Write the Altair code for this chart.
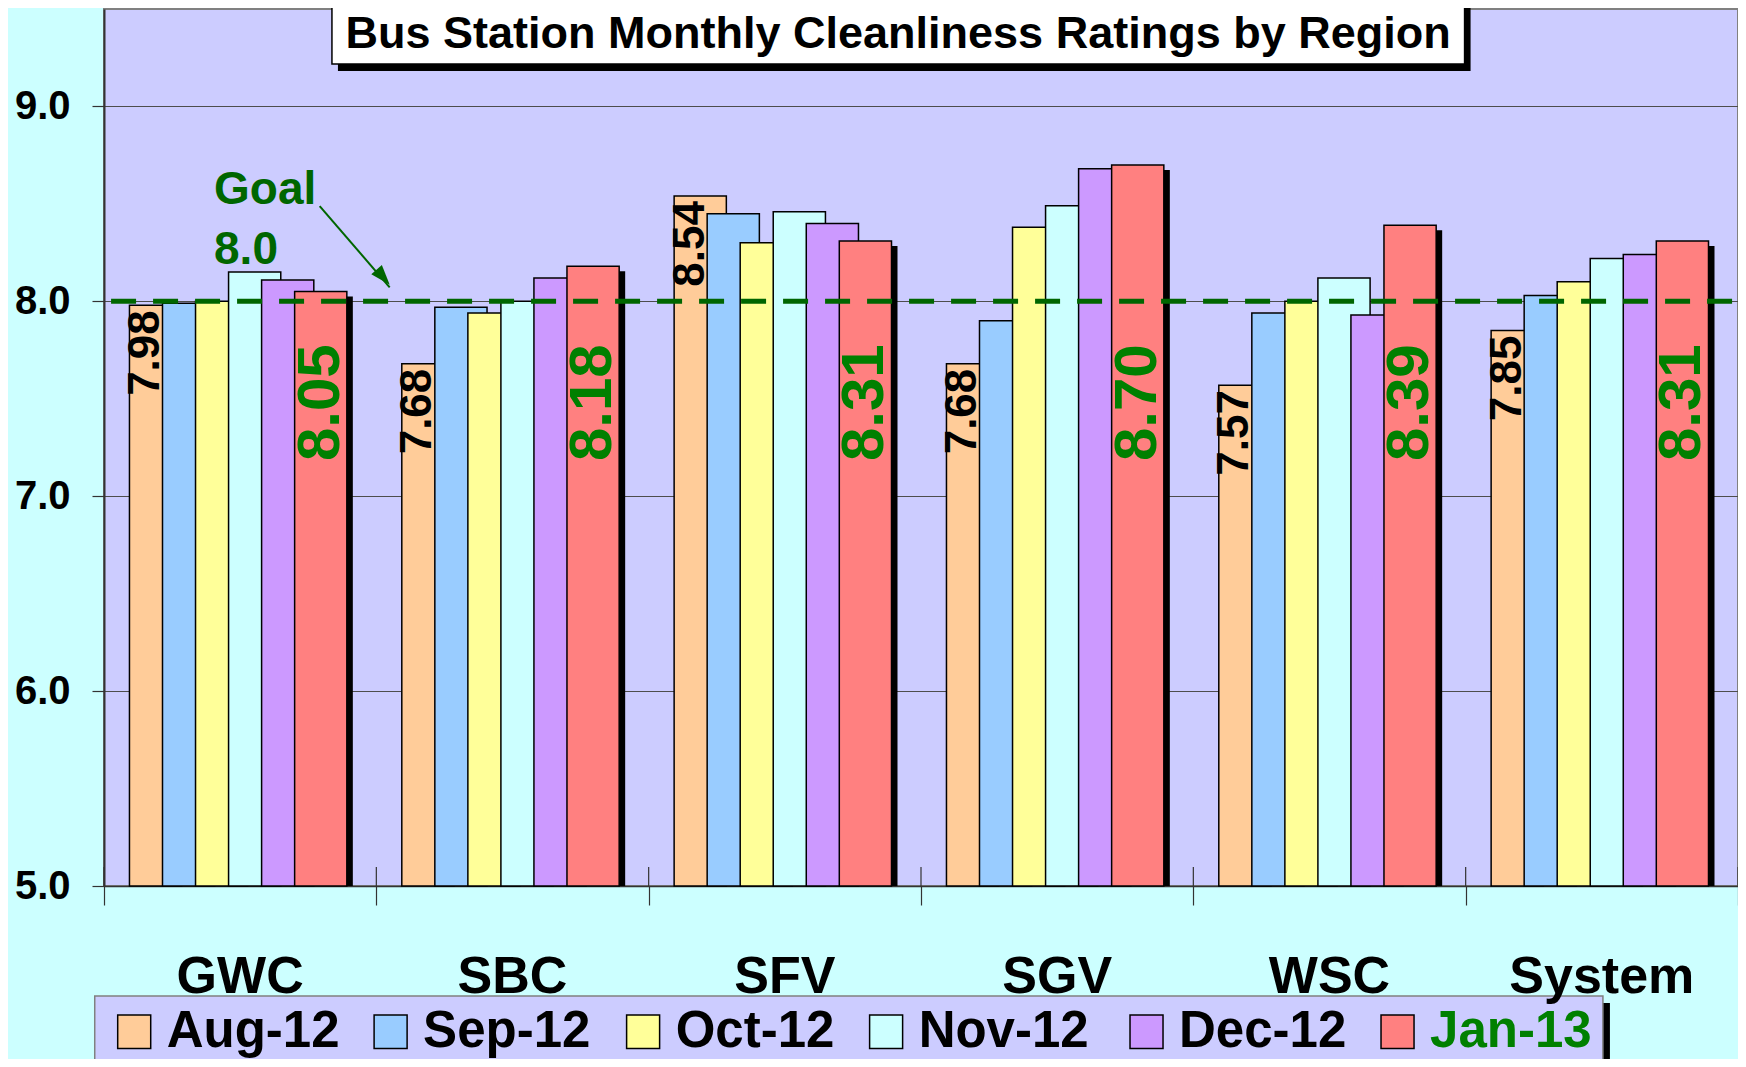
import altair as alt
import pandas as pd

# ---------------- data ----------------
regions = ["GWC", "SBC", "SFV", "SGV", "WSC", "System"]
months = ["Aug-12", "Sep-12", "Oct-12", "Nov-12", "Dec-12", "Jan-13"]
aug12 = [7.98, 7.68, 8.54, 7.68, 7.57, 7.85]
sep12 = [7.99, 7.97, 8.45, 7.90, 7.94, 8.03]
oct12 = [8.00, 7.94, 8.30, 8.38, 8.00, 8.10]
nov12 = [8.15, 8.00, 8.46, 8.49, 8.12, 8.22]
dec12 = [8.11, 8.12, 8.40, 8.68, 7.93, 8.24]
jan13 = [8.05, 8.18, 8.31, 8.70, 8.39, 8.31]
goal = 8.0
y_ticks = [5.0, 6.0, 7.0, 8.0, 9.0]
title_text = "Bus Station Monthly Cleanliness Ratings by Region"

# ---------------- styles / layout ----------------
month_colors = ["#ffcc99", "#99ccff", "#ffff99", "#ccffff", "#cc99ff", "#ff8080"]
FONT = "Liberation Sans, Arial, Helvetica, sans-serif"
GREEN = "#008000"
DKGREEN = "#006600"
W, H = 1634, 877
BAR_START, BAR_STEP, BAR_W = 0.0935, 0.1213, 0.1917

xs = alt.Scale(domain=[0, 6], nice=False, zero=False)
ys = alt.Scale(domain=[5, 9.5], nice=False, zero=False)
x_axis = alt.Axis(values=list(range(7)), labels=False, tickSize=19, tickColor="#333333",
                  tickWidth=1.2, domainColor="#333333", domainWidth=1.5, grid=False, title=None)
y_axis = alt.Axis(values=y_ticks, format=".1f", labelFont=FONT, labelFontSize=40,
                  labelFontWeight="bold", labelColor="black", labelPadding=22,
                  tickSize=12, tickColor="#333333", tickWidth=1.2, domainColor="#333333",
                  domainWidth=2, grid=True, gridColor="#4d4d4d", gridWidth=1.2, title=None)

series = [aug12, sep12, oct12, nov12, dec12, jan13]
rows = []
for r, reg in enumerate(regions):
    for m, mon in enumerate(months):
        x0 = r + BAR_START + m * BAR_STEP
        rows.append(dict(region=reg, r=r, month=mon, m=m, value=series[m][r],
                         x0=x0, x1=x0 + BAR_W, xvis=x0 + BAR_STEP / 2,
                         xc=x0 + BAR_W / 2, base=5.0))
bars_df = pd.DataFrame(rows)
base = alt.Chart(bars_df)


def X(f):
    return alt.X(f, scale=xs, axis=x_axis)


def Y(f):
    return alt.Y(f, scale=ys, axis=y_axis)


# tick stubs above the x axis at category boundaries
stub_df = pd.DataFrame({"b": list(range(7)), "y0": [5.0] * 7, "y1": [5.0975] * 7})
stubs = alt.Chart(stub_df).mark_rule(color="#333333", strokeWidth=1.2).encode(
    x=X("b:Q"), y=Y("y0:Q"), y2="y1:Q")

# shadow behind the Jan-13 bars
shadow = base.transform_filter("datum.m == 5").mark_bar(
    color="black", xOffset=6, x2Offset=6, yOffset=5).encode(
    x=X("x0:Q"), x2="x1:Q", y=Y("value:Q"), y2="base:Q")

bars = base.mark_bar(stroke="black", strokeWidth=1.5).encode(
    x=X("x0:Q"), x2="x1:Q", y=Y("value:Q"), y2="base:Q",
    fill=alt.Fill("month:N", scale=alt.Scale(domain=months, range=month_colors), legend=None),
)

aug_labels = base.transform_filter("datum.m == 0").mark_text(
    angle=270, align="right", baseline="middle", dx=-5, font=FONT,
    fontSize=44, fontWeight="bold", color="black").encode(
    x=X("xvis:Q"), y=Y("value:Q"), text=alt.Text("value:Q", format=".2f"))

jan_labels = base.transform_filter("datum.m == 5").mark_text(
    angle=270, align="center", baseline="middle", font=FONT,
    fontSize=60, fontWeight="bold", color=GREEN).encode(
    x=X("xc:Q"), y=alt.Y(datum=7.48, scale=ys, axis=y_axis),
    text=alt.Text("value:Q", format=".2f"))

# goal line + annotation
goal_df = pd.DataFrame({"g": [goal], "xa": [0.026], "xb": [6.0]})
goal_line = alt.Chart(goal_df).mark_rule(
    color=DKGREEN, strokeWidth=5, strokeDash=[25, 17]).encode(
    x=X("xa:Q"), x2="xb:Q", y=Y("g:Q"))

goal_txt_df = pd.DataFrame({"t": ["Goal", f"{goal:.1f}"], "u": [0.404, 0.404], "v": [8.499, 8.192]})
goal_text = alt.Chart(goal_txt_df).mark_text(
    align="left", baseline="alphabetic", font=FONT, fontSize=46,
    fontWeight="bold", color=DKGREEN).encode(x=X("u:Q"), y=Y("v:Q"), text="t:N")

arrow_df = pd.DataFrame({"u0": [0.792], "v0": [8.489], "u1": [1.049], "v1": [8.072]})
arrow = alt.Chart(arrow_df).mark_rule(color=DKGREEN, strokeWidth=2).encode(
    x=X("u0:Q"), y=Y("v0:Q"), x2="u1:Q", y2="v1:Q")
head_df = pd.DataFrame({"u": [1.025], "v": [8.124]})
arrow_head = alt.Chart(head_df).mark_point(
    shape="M0,-1L0.7,1L-0.7,1Z", filled=True, size=400, angle=139,
    color=DKGREEN, opacity=1).encode(x=X("u:Q"), y=Y("v:Q"))

# title box
tbox_df = pd.DataFrame({"u0": [0.837], "u1": [4.996], "v0": [9.218], "v1": [9.6],
                        "uc": [2.916], "vb": [9.302], "t": [title_text]})
tbox = alt.Chart(tbox_df)
title_shadow = tbox.mark_rect(color="black", xOffset=6, x2Offset=6, yOffset=7, y2Offset=7).encode(
    x=X("u0:Q"), x2="u1:Q", y=Y("v0:Q"), y2="v1:Q")
title_box = tbox.mark_rect(fill="white", stroke="black", strokeWidth=1.5).encode(
    x=X("u0:Q"), x2="u1:Q", y=Y("v0:Q"), y2="v1:Q")
title_txt = tbox.mark_text(align="center", baseline="alphabetic", font=FONT,
                           fontSize=45, fontWeight="bold", color="black").encode(
    x=X("uc:Q"), y=Y("vb:Q"), text="t:N")

# legend
lbox_df = pd.DataFrame({"u0": [-0.034], "u1": [5.504], "v0": [4.436], "v1": [3.9]})
lbox = alt.Chart(lbox_df)
legend_shadow = lbox.mark_rect(color="black", xOffset=7, x2Offset=7, yOffset=7, y2Offset=7).encode(
    x=X("u0:Q"), x2="u1:Q", y=Y("v0:Q"), y2="v1:Q")
legend_box = lbox.mark_rect(fill="#ccccff", stroke="#808080", strokeWidth=1.5).encode(
    x=X("u0:Q"), x2="u1:Q", y=Y("v0:Q"), y2="v1:Q")

sw_left = [0.0503, 0.9918, 1.9190, 2.8113, 3.7675, 4.6892]
leg_df = pd.DataFrame({"month": months, "m": list(range(6)), "s0": sw_left,
                       "s1": [s + 0.1212 for s in sw_left], "tx": [s + 0.18 for s in sw_left],
                       "sv0": [4.338] * 6, "sv1": [4.166] * 6, "tv": [4.172] * 6})
leg = alt.Chart(leg_df)
legend_sw = leg.mark_rect(stroke="black", strokeWidth=1.5).encode(
    x=X("s0:Q"), x2="s1:Q", y=Y("sv0:Q"), y2="sv1:Q",
    fill=alt.Fill("month:N", scale=alt.Scale(domain=months, range=month_colors), legend=None))
legend_txt = leg.mark_text(align="left", baseline="alphabetic", font=FONT,
                           fontSize=51, fontWeight="bold").encode(
    x=X("tx:Q"), y=Y("tv:Q"), text="month:N",
    color=alt.condition("datum.m == 5", alt.value(GREEN), alt.value("black")))

# category labels
cat_df = pd.DataFrame({"region": regions, "u": [i + 0.5 for i in range(6)], "v": [4.451] * 6})
cat_labels = alt.Chart(cat_df).mark_text(align="center", baseline="alphabetic", font=FONT,
                                         fontSize=52, fontWeight="bold", color="black").encode(
    x=X("u:Q"), y=Y("v:Q"), text="region:N")

chart = alt.layer(
    stubs, shadow, bars, aug_labels, jan_labels, goal_line, goal_text, arrow, arrow_head,
    title_shadow, title_box, title_txt, legend_shadow, legend_box, legend_sw, legend_txt,
    cat_labels,
).properties(
    width=W, height=H,
    autosize=alt.AutoSizeParams(type="none"),
    padding={"left": 96, "top": 1, "right": 0, "bottom": 173},
    background="#ccffff",
).configure_view(fill="#ccccff", stroke="#808080", strokeWidth=2)

chart.save("out.html", embed_options={"renderer": "svg", "actions": False})
